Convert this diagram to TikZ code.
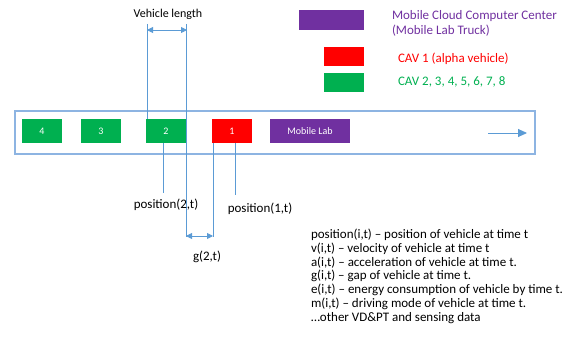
\documentclass[tikz,border=0pt]{standalone}
\usepackage{fontspec}
\setmainfont{Carlito}
\usetikzlibrary{arrows.meta}
\definecolor{cpurple}{HTML}{7030A0}
\definecolor{cred}{HTML}{FF0000}
\definecolor{cgreen}{HTML}{00B050}
\definecolor{cblue}{HTML}{5B9BD5}
\definecolor{croad}{HTML}{8DB4E2}
\begin{document}
\begin{tikzpicture}[x=1pt,y=-1pt,
  every node/.style={inner sep=0pt,outer sep=0pt},
  car/.style={minimum width=40pt,minimum height=24pt,text=white,font=\fontsize{10}{12}\selectfont},
  greencar/.style={car,fill=cgreen},
  redcar/.style={car,fill=cred},
  labcar/.style={car,fill=cpurple,minimum width=80pt},
  legbox/.style={minimum width=40pt,minimum height=19pt},
  guide/.style={draw=cblue,line width=0.9pt},
  dim/.style={draw=cblue,line width=0.9pt,{Triangle[length=6pt,width=6pt]}-{Triangle[length=6pt,width=6pt]}},
  lbl/.style={font=\fontsize{13}{14}\selectfont},
]
\useasboundingbox (0,0) rectangle (563,350);
% road
\node[draw=croad,line width=1.2pt,minimum width=520pt,minimum height=43pt] (road) at (275,132.5) {};
% guide lines (behind cars)
\coordinate (vlA) at (147,24);
\coordinate (vlB) at (186,24);
\coordinate (vlAb) at (147,119);
\coordinate (vlBb) at (186,237);
\coordinate (gA) at (213,137);
\coordinate (gAb) at (213,237);
\coordinate (p2a) at (163,137);
\coordinate (p2b) at (163,193);
\coordinate (p1a) at (235,137);
\coordinate (p1b) at (235,195);
\draw[guide] (vlA) -- (vlAb);
\draw[guide] (vlB) -- (vlBb);
\draw[guide] (gA) -- (gAb);
\draw[guide] (p2a) -- (p2b);
\draw[guide] (p1a) -- (p1b);
% cars
\node[greencar] (car4) at (42,131.5) {4};
\node[greencar] (car3) at (101,131) {3};
\node[greencar] (car2) at (166,131) {2};
\node[redcar] (car1) at (232,131) {1};
\node[labcar] (lab) at (310,131) {Mobile Lab};
% road arrow
\coordinate (ra) at (488,133);
\coordinate (rb) at (527,133);
\draw[draw=cblue,line width=0.9pt,-{Triangle[length=9pt,width=8pt]}] (ra) -- (rb);
% dimension arrows
\coordinate (dA) at (147,30);
\coordinate (dB) at (187,30);
\draw[dim] (dA) -- (dB);
\coordinate (ggA) at (186,236);
\coordinate (ggB) at (213,236);
\draw[dim] (ggA) -- (ggB);
% labels
\node[lbl,font=\fontsize{12}{14}\selectfont] (vlen) at (168,14) {Vehicle length};
\node[lbl] (pos2) at (166,205) {position(2,t)};
\node[lbl] (pos1) at (260,209) {position(1,t)};
\node[lbl] (g2) at (207,257) {g(2,t)};
% legend
\node[fill=cpurple,minimum width=65pt,minimum height=20pt] (legP) at (331.5,20) {};
\node[legbox,fill=cred] (legR) at (344,56.5) {};
\node[legbox,fill=cgreen] (legG) at (344,82.5) {};
\node[lbl,text=cpurple,align=left,anchor=west,font=\fontsize{13}{15}\selectfont] (legPt) at (392,23.5) {Mobile Cloud Computer Center\\(Mobile Lab Truck)};
\node[lbl,text=cred,anchor=west] (legRt) at (398,59) {CAV 1 (alpha vehicle)};
\node[lbl,text=cgreen,anchor=west] (legGt) at (398,82) {CAV 2, 3, 4, 5, 6, 7, 8};
% definitions
\node[anchor=north west,align=left,font=\fontsize{13}{13.8}\selectfont] (defs) at (311,229) {%
position(i,t) -- position of vehicle at time t\\
v(i,t) -- velocity of vehicle at time t\\
a(i,t) -- acceleration of vehicle at time t.\\
g(i,t) -- gap of vehicle at time t.\\
e(i,t) -- energy consumption of vehicle by time t.\\
m(i,t) -- driving mode of vehicle at time t.\\
…other VD\&PT and sensing data};
\end{tikzpicture}
\end{document}
